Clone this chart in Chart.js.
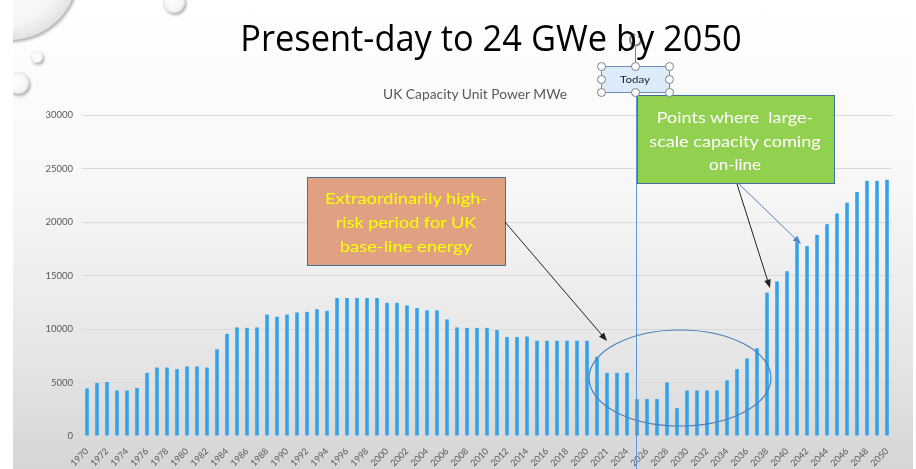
<!DOCTYPE html>
<html>
<head>
<meta charset="utf-8">
<title>UK Capacity Unit Power MWe</title>
<script src="https://cdn.jsdelivr.net/npm/chart.js@4.4.0/dist/chart.umd.min.js"></script>
<style>
  html, body { margin: 0; padding: 0; background: #fff; }
  #slide {
    position: absolute; left: 13px; top: 0; width: 900px; height: 469px;
    background: linear-gradient(to bottom, #ffffff 0%, #f7f7f7 40%, #e6e6e6 75%, #d5d5d5 100%);
  }
  #chartCanvas { position: absolute; left: 0; top: 0; }
  .txt { position: absolute; white-space: pre; line-height: 1; }
</style>
</head>
<body>
<div id="slide"></div>
<canvas id="chartCanvas" width="916" height="469"></canvas>
<div id="labels"></div>

<script>
// x axis categories (the source sheet has "2021" twice, kept as is)
const yearLabels = [
  "1970","1971","1972","1973","1974","1975","1976","1977","1978","1979",
  "1980","1981","1982","1983","1984","1985","1986","1987","1988","1989",
  "1990","1991","1992","1993","1994","1995","1996","1997","1998","1999",
  "2000","2001","2002","2003","2004","2005","2006","2007","2008","2009",
  "2010","2011","2012","2013","2014","2015","2016","2017","2018","2019",
  "2020","2021","2021","2023","2024","2025","2026","2027","2028","2029",
  "2030","2031","2032","2033","2034","2035","2036","2037","2038","2039",
  "2040","2041","2042","2043","2044","2045","2046","2047","2048","2049",
  "2050"
];

// UK capacity, MWe
const capacityMWe = [
  4450, 4950, 5050, 4250, 4250, 4500, 5900, 6400, 6400, 6250,
  6500, 6500, 6400, 8100, 9550, 10150, 10100, 10150, 11350, 11150,
  11350, 11550, 11600, 11850, 11700, 12900, 12900, 12900, 12900, 12900,
  12450, 12450, 12200, 11950, 11750, 11750, 10900, 10150, 10100, 10100,
  10100, 9900, 9250, 9250, 9300, 8900, 8900, 8900, 8900, 8900,
  8900, 7400, 5900, 5900, 5900, 3450, 3450, 3450, 5000, 2600,
  4250, 4250, 4250, 4250, 5200, 6250, 7250, 8200, 13400, 14450,
  15400, 18100, 17750, 18800, 19800, 20800, 21800, 22800, 23850, 23850,
  23950
];

const yTicks = [0, 5000, 10000, 15000, 20000, 25000, 30000];

const barColour = "#35a3ec";
const axisText = "#595959";

// ---------- text on the slide ----------
function addText(str, cx, cy, font, colour, fitWidth) {
  const el = document.createElement("div");
  el.className = "txt";
  el.textContent = str;
  el.style.font = font;
  el.style.color = colour;
  document.getElementById("labels").appendChild(el);
  let k = 1;
  if (fitWidth) k = fitWidth / el.offsetWidth;
  el.style.left = cx + "px";
  el.style.top = cy + "px";
  el.style.transform = "translate(-50%, -50%) scaleX(" + k + ")";
  return el;
}

addText("Present-day to 24 GWe by 2050", 491, 36, "37px 'Open Sans'", "#000", 502);
addText("UK Capacity Unit Power MWe", 475, 94, "13px Lato", axisText, 184);
addText("Today", 635, 79, "10px Lato", "#222", 30);

addText("Extraordinarily high-", 406, 197, "16px Lato", "#ffff00", 162);
addText("risk period for UK", 406, 221, "16px Lato", "#ffff00", 140);
addText("base-line energy", 406, 245, "16px Lato", "#ffff00", 132);

addText("Points where  large-", 735, 116, "16px Lato", "#ffffff", 156);
addText("scale capacity coming", 735, 140, "16px Lato", "#ffffff", 171);
addText("on-line", 735, 163, "16px Lato", "#ffffff", 52);

// ---------- drawing helpers ----------
function arrow(ctx, x1, y1, x2, y2, colour) {
  const a = Math.atan2(y2 - y1, x2 - x1);
  ctx.save();
  ctx.strokeStyle = colour;
  ctx.fillStyle = colour;
  ctx.lineWidth = 1;
  ctx.beginPath();
  ctx.moveTo(x1, y1);
  ctx.lineTo(x2 - 6 * Math.cos(a), y2 - 6 * Math.sin(a));
  ctx.stroke();
  ctx.beginPath();
  ctx.moveTo(x2, y2);
  ctx.lineTo(x2 - 9 * Math.cos(a - 0.38), y2 - 9 * Math.sin(a - 0.38));
  ctx.lineTo(x2 - 9 * Math.cos(a + 0.38), y2 - 9 * Math.sin(a + 0.38));
  ctx.closePath();
  ctx.fill();
  ctx.restore();
}

function droplet(ctx, x, y, r) {
  ctx.save();
  ctx.beginPath();
  ctx.rect(13, 0, 900, 469);
  ctx.clip();
  ctx.shadowColor = "rgba(0,0,0,0.3)";
  ctx.shadowBlur = 3;
  ctx.shadowOffsetX = 1.5;
  ctx.shadowOffsetY = 2;
  const g = ctx.createRadialGradient(x - r * 0.3, y - r * 0.3, r * 0.1, x, y, r);
  g.addColorStop(0, "#ffffff");
  g.addColorStop(0.8, "#f6f6f6");
  g.addColorStop(1, "#e2e2e2");
  ctx.fillStyle = g;
  ctx.beginPath();
  ctx.arc(x, y, r, 0, Math.PI * 2);
  ctx.fill();
  ctx.restore();
}

const slideDecor = {
  id: "slideDecor",
  beforeDraw(chart) {
    const ctx = chart.ctx;
    droplet(ctx, 10, -28, 68);
    droplet(ctx, 37, 57, 6);
    droplet(ctx, 18, 83, 11);
    droplet(ctx, 174, 2, 11);
  },
  afterDraw(chart) {
    const ctx = chart.ctx;
    ctx.save();

    // circled low period
    ctx.strokeStyle = "#4a80b8";
    ctx.lineWidth = 1.2;
    ctx.beginPath();
    ctx.ellipse(680, 378, 91, 48, 0, 0, Math.PI * 2);
    ctx.stroke();

    // "today" line
    ctx.strokeStyle = "#5b9bd5";
    ctx.lineWidth = 1;
    ctx.beginPath();
    ctx.moveTo(636.5, 92);
    ctx.lineTo(636.5, 469);
    ctx.stroke();

    // call-out boxes
    ctx.fillStyle = "#e0a082";
    ctx.fillRect(307, 177, 198, 88);
    ctx.strokeStyle = "#41719c";
    ctx.strokeRect(307.5, 177.5, 198, 88);

    ctx.fillStyle = "#92d050";
    ctx.fillRect(637, 95, 197, 88);
    ctx.strokeRect(637.5, 95.5, 197, 88);

    arrow(ctx, 505, 222, 607, 341, "#222");
    arrow(ctx, 737, 184, 770, 288, "#222");
    arrow(ctx, 739, 184, 801, 244, "#4f86c6");

    // selected "Today" text box with handles
    ctx.fillStyle = "#dcebfa";
    ctx.fillRect(601, 66, 68, 26);
    ctx.strokeStyle = "#6a8fb8";
    ctx.strokeRect(601.5, 66.5, 68, 26);

    ctx.strokeStyle = "#7f7f7f";
    ctx.beginPath();
    ctx.moveTo(635.5, 66);
    ctx.lineTo(635.5, 47);
    ctx.stroke();
    ctx.lineWidth = 2.2;
    ctx.strokeStyle = "#8c8c8c";
    ctx.beginPath();
    ctx.arc(635.5, 40, 5.5, -0.6, Math.PI * 1.5);
    ctx.stroke();
    ctx.fillStyle = "#8c8c8c";
    ctx.beginPath();
    ctx.moveTo(642, 33);
    ctx.lineTo(642.5, 39);
    ctx.lineTo(637, 37);
    ctx.closePath();
    ctx.fill();

    ctx.lineWidth = 1;
    ctx.strokeStyle = "#7f7f7f";
    const hx = [601.5, 635.5, 669.5];
    const hy = [66.5, 79.5, 92.5];
    hx.forEach((x, i) => {
      hy.forEach((y, j) => {
        if (i === 1 && j === 1) return;
        ctx.fillStyle = "#ffffff";
        ctx.beginPath();
        ctx.arc(x, y, 4, 0, Math.PI * 2);
        ctx.fill();
        ctx.stroke();
      });
    });

    ctx.restore();
  }
};

// ---------- the chart ----------
const ctx = document.getElementById("chartCanvas").getContext("2d");
const chart = new Chart(ctx, {
  type: "bar",
  data: {
    labels: yearLabels,
    datasets: [
      {
        label: "UK Capacity Unit Power MWe",
        data: capacityMWe,
        backgroundColor: barColour,
        barPercentage: 0.36,
        categoryPercentage: 1.0,
      },
    ],
  },
  options: {
    responsive: false,
    animation: false,
    layout: { padding: { top: 115, right: 24, left: 0, bottom: 0 } },
    plugins: {
      legend: { display: false },
      tooltip: { enabled: false },
    },
    scales: {
      x: {
        grid: { display: false },
        border: { display: false },
        ticks: {
          autoSkip: false,
          minRotation: 45,
          maxRotation: 45,
          padding: 2,
          color: axisText,
          font: { family: "Lato", size: 9 },
          callback: (v, i) => (i % 2 === 0 ? yearLabels[i] : ""),
        },
        afterFit: (scale) => {
          scale.height = 33;
        },
      },
      y: {
        min: 0,
        max: 30000,
        afterBuildTicks: (scale) => {
          scale.ticks = yTicks.map((v) => ({ value: v }));
        },
        ticks: {
          padding: 9,
          color: axisText,
          font: { family: "Lato", size: 9.5 },
          callback: (v) => String(v),
        },
        grid: {
          drawTicks: false,
          color: (c) => (c.tick && c.tick.value === 0 ? "rgba(0,0,0,0)" : "#d9d9d9"),
        },
        border: { display: false },
        afterFit: (scale) => {
          scale.width = 82;
        },
      },
    },
  },
  plugins: [slideDecor],
});
</script>
</body>
</html>
